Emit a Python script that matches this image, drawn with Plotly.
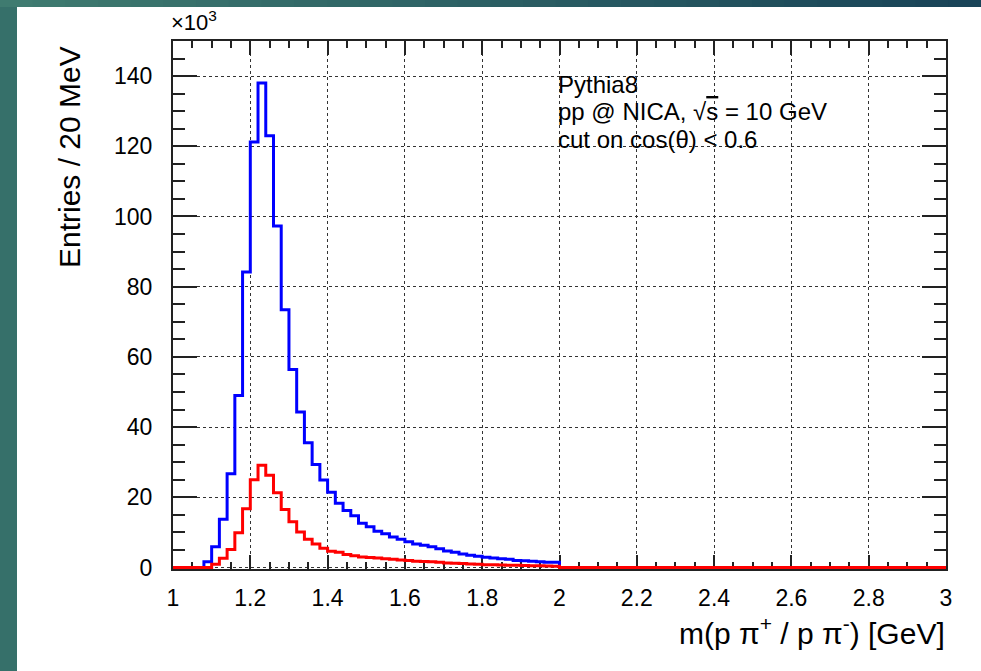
import numpy as np
import plotly.graph_objects as go

# histogram binning (GeV)
bin_lo = 1.0
bin_width = 0.02

# entries per 20 MeV, in units of 10^3
blue_counts = [
    0, 0, 0, 0, 1.6, 5.9, 13.7, 26.7, 49.0, 84.2,
    121.2, 138.0, 123.0, 97.3, 73.4, 56.4, 44.3, 35.5, 29.3, 24.9,
    21.4, 18.3, 16.2, 14.7, 12.6, 11.6, 10.3, 9.6, 8.7, 8.0,
    7.3, 6.7, 6.3, 5.9, 5.3, 4.7, 4.3, 3.8, 3.5, 3.2,
    2.9, 2.7, 2.5, 2.3, 2.0, 1.9, 1.8, 1.6, 1.5, 1.5,
]
red_counts = [
    0, 0, 0, 0, 0, 0.9, 2.6, 5.1, 9.9, 16.7,
    25.0, 29.1, 26.3, 21.3, 16.5, 13.0, 10.1, 8.0, 6.7, 5.5,
    4.6, 4.3, 3.7, 3.3, 3.0, 2.8, 2.7, 2.5, 2.3, 2.1,
    2.0, 1.8, 1.7, 1.6, 1.5, 1.3, 1.2, 1.1, 1.0, 0.9,
    0.8, 0.75, 0.7, 0.65, 0.6, 0.55, 0.5, 0.45, 0.4, 0.35,
] + [0] * 50

x_tickvals = [1.0, 1.2, 1.4, 1.6, 1.8, 2.0, 2.2, 2.4, 2.6, 2.8, 3.0]
x_ticktext = ["1", "1.2", "1.4", "1.6", "1.8", "2", "2.2", "2.4", "2.6", "2.8", "3"]
y_tickvals = [0, 20, 40, 60, 80, 100, 120, 140]

info_lines = [
    "Pythia8",
    "pp @ NICA, √<span style='text-decoration:overline'>s</span> = 10 GeV",
    "cut on cos(θ) < 0.6",
]

W, H = 981, 671
FONT = "Liberation Sans, Arial, sans-serif"


def step_xy(counts):
    # ROOT-like outline: edges with last value repeated, drop to zero at the end
    counts = list(counts)
    edges = bin_lo + bin_width * np.arange(len(counts) + 1)
    return list(edges) + [edges[-1]], counts + [counts[-1], 0]


def px_x(p):
    return p / W


def px_y(p):
    return 1 - p / H


fig = go.Figure()
for counts, col in [(blue_counts, "#0000ff"), (red_counts, "#ff0000")]:
    xs, ys = step_xy(counts)
    fig.add_trace(
        go.Scatter(x=xs, y=ys, mode="lines", line=dict(color=col, width=3, shape="hv"),
                   showlegend=False, hoverinfo="skip")
    )

axis_common = dict(
    showline=True, linecolor="#222", linewidth=2, mirror="ticks",
    ticks="inside", tickcolor="#222", tickwidth=2,
    showgrid=True, gridcolor="#333", gridwidth=1, griddash="dot",
    zeroline=False, tickfont=dict(family=FONT, size=23, color="black"),
    layer="below traces", automargin=False,
)

shapes = [
    # white canvas
    dict(type="rect", xref="paper", yref="paper", x0=px_x(17), x1=1.0, y0=0, y1=px_y(7),
         fillcolor="white", line_width=0, layer="below"),
]
# gradient band along the top
n_steps = 30
c0 = np.array([0x3f, 0x7b, 0x70])
c1 = np.array([0x19, 0x44, 0x58])
for k in range(n_steps):
    c = (c0 + (c1 - c0) * k / (n_steps - 1)).astype(int)
    shapes.append(dict(type="rect", xref="paper", yref="paper",
                       x0=k / n_steps, x1=(k + 1) / n_steps + 0.002, y0=px_y(7), y1=1.0,
                       fillcolor="rgb(%d,%d,%d)" % tuple(c), line_width=0, layer="below"))

annotations = [
    dict(text="×10<sup>3</sup>", x=px_x(169), y=px_y(37), xanchor="left", yanchor="bottom",
         font=dict(family=FONT, size=22, color="black")),
    dict(text="Entries / 20 MeV", x=px_x(69), y=px_y(157), textangle=-90,
         xanchor="center", yanchor="middle", font=dict(family=FONT, size=30, color="black")),
    dict(text="m(p π<sup>+</sup> / p π<sup>-</sup>) [GeV]", x=px_x(947), y=px_y(631),
         xanchor="right", yanchor="middle", font=dict(family=FONT, size=30, color="black")),
]
for i, line in enumerate(info_lines):
    annotations.append(dict(text=line, x=px_x(556), y=px_y(84 + 27.5 * i), xanchor="left",
                            yanchor="middle", font=dict(family=FONT, size=24, color="black")))
for a in annotations:
    a.update(xref="paper", yref="paper", showarrow=False)

fig.update_layout(
    template="none",
    width=W, height=H,
    margin=dict(l=0, r=0, t=0, b=0, pad=0, autoexpand=False),
    paper_bgcolor="#36706a",
    plot_bgcolor="white",
    xaxis=dict(axis_common, domain=[px_x(173), px_x(946)], range=[1, 3],
               tickvals=x_tickvals, ticktext=x_ticktext, ticklen=14, ticklabelstandoff=7,
               minor=dict(dtick=0.05, ticklen=7, ticks="inside", tickcolor="#222", tickwidth=2,
                          showgrid=False)),
    # range dips just below zero so the zero-level outline is not clipped by the frame
    yaxis=dict(axis_common, domain=[px_y(569.2), px_y(41)], range=[-0.5, 150],
               tickvals=y_tickvals, ticklen=24, ticklabelstandoff=14,
               minor=dict(dtick=5, ticklen=12, ticks="inside", tickcolor="#222", tickwidth=2,
                          showgrid=False)),
    shapes=shapes,
    annotations=annotations,
)

# drop the default page margin so the figure sits flush with the window
fig.write_html(
    "out.html",
    config={"displayModeBar": False},
    post_script="document.body.style.margin='0';document.body.style.overflow='hidden';",
)
